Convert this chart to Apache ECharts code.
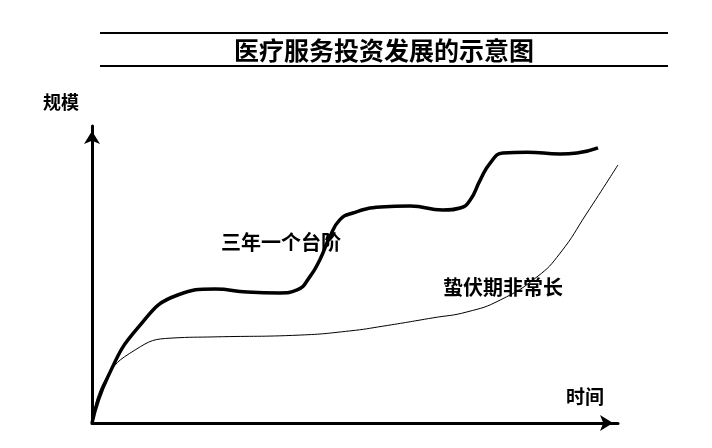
<!DOCTYPE html>
<html>
<head>
<meta charset="utf-8">
<script src="https://cdn.jsdelivr.net/npm/echarts@6/dist/echarts.min.js"></script>
<style>
  html, body { margin: 0; padding: 0; background: #fff; }
  #chart { width: 712px; height: 448px; }
</style>
</head>
<body>
<div id="chart"></div>
<script>
// 示意图的数据（时间 0-100，规模 0-100）
var thickX = [0, 3.0, 8.7, 16.3, 23.4, 29.5, 35.7, 39.0, 41.4, 43.3, 45.2, 47.1, 49.6, 54.8, 60.5, 66.7, 70.0, 71.9, 73.8, 75.7, 78.1, 82.7, 89.0, 92.2, 96.2];
var thickY = [0, 15.5, 32.0, 43.1, 45.1, 44.1, 43.8, 44.8, 49.2, 54.9, 62.6, 68.4, 70.7, 72.7, 73.1, 71.7, 72.4, 75.1, 81.8, 87.5, 90.9, 91.2, 90.6, 90.9, 92.6];
var thinX = [0, 2.5, 8.2, 15.2, 23.4, 39.5, 49.0, 55.3, 64.8, 71.3, 77.6, 84.6, 89.0, 94.1, 100];
var thinY = [0, 14.5, 24.6, 28.6, 29.0, 29.6, 31.0, 32.6, 35.4, 37.4, 41.4, 49.2, 57.2, 70.7, 86.9];

var titleText = '医疗服务投资发展的示意图';
var yName = '规模';
var xName = '时间';
var note1 = '三年一个台阶';
var note2 = '蛰伏期非常长';

function pairs(xs, ys){
	var arr = [];
	for(var i=0;i<xs.length;i++){
		arr.push([xs[i], ys[i]]);
	}
	return arr;
}

var font = '"Noto Sans CJK SC", "Noto Sans", sans-serif';

var myChart = echarts.init(document.getElementById('chart'));
var option = {
	backgroundColor: '#fff',
	animation: false,
	grid: { left: 92, right: 94, top: 126, bottom: 25 },
	xAxis: {
		type: 'value', min: 0, max: 100,
		axisLine: { lineStyle: { color: '#000', width: 3 }, symbol: ['none', 'arrow'], symbolSize: [12, 13], symbolOffset: [0, -5] },
		axisTick: { show: false }, axisLabel: { show: false }, splitLine: { show: false }
	},
	yAxis: {
		type: 'value', min: 0, max: 100,
		axisLine: { show: true, lineStyle: { color: '#000', width: 3 }, symbol: ['none', 'arrow'], symbolSize: [12, 13], symbolOffset: [0, -5] },
		axisTick: { show: false }, axisLabel: { show: false }, splitLine: { show: false }
	},
	graphic: [
		{ type: 'line', shape: { x1: 100, y1: 33, x2: 668, y2: 33 }, style: { stroke: '#000', lineWidth: 2 } },
		{ type: 'line', shape: { x1: 100, y1: 66, x2: 668, y2: 66 }, style: { stroke: '#000', lineWidth: 2 } },
		{ type: 'text', x: 384, y: 50, style: { text: titleText, font: 'bold 25px ' + font, fill: '#000', align: 'center', verticalAlign: 'middle' } },
		{ type: 'text', x: 61, y: 102, style: { text: yName, font: 'bold 18px ' + font, fill: '#000', align: 'center', verticalAlign: 'middle' } },
		{ type: 'text', x: 585, y: 397, style: { text: xName, font: 'bold 19px ' + font, fill: '#000', align: 'center', verticalAlign: 'middle' } },
		{ type: 'text', x: 281, y: 242, style: { text: note1, font: 'bold 20px ' + font, fill: '#000', align: 'center', verticalAlign: 'middle' } },
		{ type: 'text', x: 503, y: 287, style: { text: note2, font: 'bold 20px ' + font, fill: '#000', align: 'center', verticalAlign: 'middle' } }
	],
	series: [
		{
			type: 'line', data: pairs(thickX, thickY), smooth: 0.5, showSymbol: false, clip: false,
			lineStyle: { color: '#000', width: 3.5 }
		},
		{
			type: 'line', data: pairs(thinX, thinY), smooth: 0.5, showSymbol: false, clip: false,
			lineStyle: { color: '#000', width: 1 }
		}
	]
};
myChart.setOption(option);
</script>
</body>
</html>
